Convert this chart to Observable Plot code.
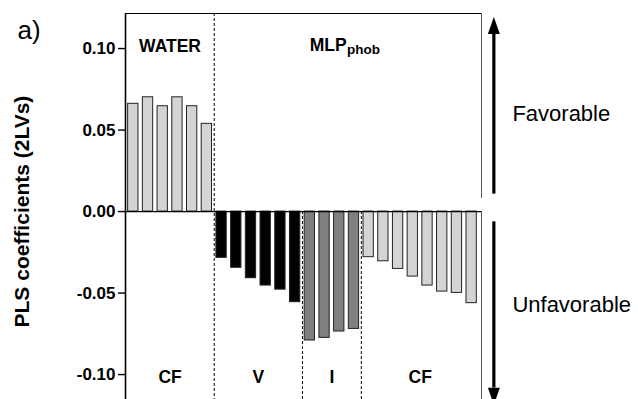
<!DOCTYPE html>
<html><head><meta charset="utf-8">
<script src="https://cdn.jsdelivr.net/npm/d3@7"></script>
<script src="https://cdn.jsdelivr.net/npm/@observablehq/plot@0.6"></script>
<style>html,body{margin:0;padding:0;background:#fff;} svg{display:block}</style>
</head><body><div id="chart"></div>
<script>
// ---- data ----
const waterCF = [0.0661, 0.0701, 0.0646, 0.0701, 0.0646, 0.0538];
const mlpV = [-0.0284, -0.0345, -0.0409, -0.0454, -0.0479, -0.0556];
const mlpI = [-0.0791, -0.0775, -0.0736, -0.0720];
const mlpCF = [-0.0280, -0.0305, -0.0352, -0.0399, -0.0454, -0.0491, -0.0499, -0.0562];
const bottomLabels = ["CF", "V", "I", "CF"];
const topLabels = ["WATER", "MLP"];
const topSubs = ["", "phob"];
const yTicks = [-0.10, -0.05, 0.00, 0.05, 0.10];
const yTitle = "PLS coefficients (2LVs)";
const panelLabel = "a)";
const favorLabels = ["Favorable", "Unfavorable"];

// ---- build table ----
const series = [waterCF, mlpV, mlpI, mlpCF];
const fills = ["#d4d4d4", "#000000", "#808080", "#d4d4d4"];
const bars = [];
const bounds = [0];
let n = 0;
series.forEach((s, g) => { s.forEach(v => bars.push({i: n++, v, g})); bounds.push(n); });
const bottomGroups = bottomLabels.map((t, g) => ({t, x: (bounds[g] + bounds[g + 1]) / 2}));
const topGroups = [
  {t: topLabels[0], s: topSubs[0], x: (bounds[0] + bounds[1]) / 2},
  {t: topLabels[1], s: topSubs[1], x: (bounds[1] + bounds[4]) / 2}
];
const dividers = [
  {x: bounds[1], full: true},
  {x: bounds[2], full: false},
  {x: bounds[3], full: false}
];

// ---- layout ----
const xMin = -0.03, xMax = n + 0.17;
const yMin = -0.1153, yMax = 0.1215;
const arrowX = xMax + 0.84;
const textX = xMax + 2.1;
const font = "'Liberation Sans', Arial, Helvetica, sans-serif";

const head = {
  draw(context, l) {
    context.moveTo(0, -l);
    context.lineTo(-6, 0);
    context.lineTo(6, 0);
    context.closePath();
  }
};

const chart = Plot.plot({
  width: 638,
  height: 399,
  marginTop: 13,
  marginBottom: 0,
  marginLeft: 125,
  marginRight: 157,
  style: {fontFamily: font, fontSize: "17px", fontWeight: "bold", color: "#000", background: "#fff"},
  x: {domain: [xMin, xMax], axis: null},
  y: {domain: [yMin, yMax], axis: null},
  marks: [
    Plot.rectY(bars, {
      x: "i", interval: 1, y: "v",
      insetLeft: 2.2, insetRight: 2.2,
      fill: d => fills[d.g], stroke: "#222", strokeWidth: 1
    }),
    Plot.ruleX(dividers, {
      x: "x", y1: d => d.full ? yMax : 0, y2: yMin,
      stroke: "#000", strokeWidth: 1, strokeDasharray: "3,2"
    }),
    Plot.ruleY([0], {x1: xMin, x2: xMax, stroke: "#000", strokeWidth: 1.3}),
    Plot.ruleY([yMax], {x1: xMin, x2: xMax, stroke: "#000", strokeWidth: 1.2}),
    Plot.ruleX([xMin], {y1: yMin, y2: yMax, stroke: "#000", strokeWidth: 1.6}),
    Plot.ruleX([{a: yMax, b: 0.008}, {a: 0, b: yMin}], {x: () => xMax, y1: "a", y2: "b", stroke: "#555", strokeWidth: 1}),
    Plot.axisY({
      ticks: yTicks, tickFormat: d => d.toFixed(2), anchor: "left",
      tickSize: 7, tickPadding: 3, strokeWidth: 1.4,
      fontSize: 17, fontWeight: "bold", label: null
    }),
    // group labels (top)
    Plot.text(topGroups.filter(d => !d.s), {x: "x", y: () => 0.10, text: "t", textAnchor: "middle",
      lineAnchor: "bottom", dy: 3.5, fontSize: 17.5, fontWeight: "bold"}),
    Plot.text(topGroups.filter(d => d.s), {x: "x", y: () => 0.10, text: "t", textAnchor: "end",
      lineAnchor: "bottom", dy: 2, fontSize: 17.5, fontWeight: "bold"}),
    Plot.text(topGroups.filter(d => d.s), {x: "x", y: () => 0.10, text: "s", textAnchor: "start",
      lineAnchor: "bottom", dy: 5.5, dx: 0.5, fontSize: 13.5, fontWeight: "bold"}),
    // group labels (bottom)
    Plot.text(bottomGroups, {x: "x", y: () => -0.10, text: "t", textAnchor: "middle",
      lineAnchor: "bottom", dy: 8.5, fontSize: 17.5, fontWeight: "bold"}),
    // y title
    Plot.text([yTitle], {frameAnchor: "left", y: () => 0, text: d => d, rotate: -90,
      textAnchor: "middle", dx: -103, lineAnchor: "middle", fontSize: 21, fontWeight: "bold"}),
    // panel label
    Plot.text([panelLabel], {frameAnchor: "top-left", text: d => d, dx: -108, dy: 25,
      lineAnchor: "bottom", textAnchor: "start", fontSize: 26, fontWeight: "normal"}),
    // arrows
    Plot.link([{a: 0.011, b: 0.109}, {a: -0.006, b: -0.108}], {
      x1: () => arrowX, x2: () => arrowX, y1: "a", y2: "b", stroke: "#000", strokeWidth: 3.2
    }),
    Plot.vector([{y: 0.1193, r: 0}, {y: -0.1185, r: 180}], {
      x: () => arrowX, y: "y", rotate: "r", length: 17, anchor: "end",
      shape: head, fill: "#000", stroke: "none"
    }),
    Plot.text([{t: favorLabels[0], y: 0.0554}, {t: favorLabels[1], y: -0.0615}], {
      x: () => textX, y: "y", text: "t", textAnchor: "start", lineAnchor: "bottom",
      fontSize: 22, fontWeight: "normal"
    })
  ]
});
document.getElementById("chart").appendChild(chart);
</script>
</body></html>
